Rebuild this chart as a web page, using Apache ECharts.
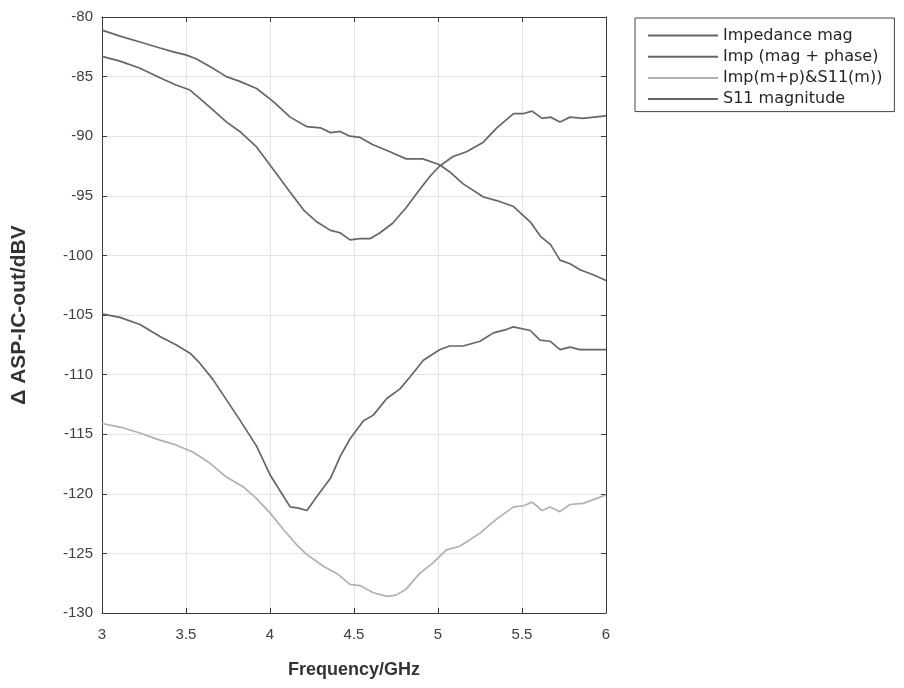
<!DOCTYPE html>
<html>
<head>
<meta charset="utf-8">
<script src="https://cdn.jsdelivr.net/npm/echarts@6/dist/echarts.min.js"></script>
<style>html,body{margin:0;padding:0;background:#fff;}#c{width:904px;height:688px;}</style>
</head>
<body>
<div id="c"></div>
<script>
// Series names
const seriesNames = ['Impedance mag', 'Imp (mag + phase)', 'Imp(m+p)&S11(m))', 'S11 magnitude'];

// Impedance mag (dips near 4.5 GHz, rises to -88)
const impMagFreq = [3.0,3.107,3.226,3.345,3.44,3.52,3.58,3.66,3.74,3.82,3.92,4.02,4.12,4.20,4.28,4.36,4.417,4.476,4.536,4.595,4.655,4.73,4.81,4.89,4.95,5.01,5.09,5.17,5.27,5.35,5.45,5.51,5.56,5.62,5.67,5.726,5.786,5.863,5.93,6.0];
const impMagVal  = [-83.3,-83.7,-84.3,-85.1,-85.7,-86.1,-86.8,-87.8,-88.8,-89.6,-90.9,-92.8,-94.7,-96.2,-97.2,-97.9,-98.1,-98.7,-98.6,-98.6,-98.1,-97.3,-96.0,-94.5,-93.4,-92.5,-91.7,-91.3,-90.5,-89.3,-88.1,-88.1,-87.9,-88.5,-88.4,-88.8,-88.4,-88.5,-88.4,-88.3];

// Imp (mag + phase) (dips near 4.2 GHz)
const impMPFreq = [3.0,3.107,3.226,3.345,3.44,3.524,3.58,3.66,3.74,3.82,3.92,4.0,4.08,4.12,4.17,4.22,4.28,4.36,4.42,4.476,4.555,4.615,4.695,4.774,4.833,4.913,5.012,5.07,5.15,5.25,5.33,5.41,5.448,5.55,5.607,5.667,5.726,5.786,5.845,6.0];
const impMPVal  = [-104.9,-105.2,-105.8,-106.8,-107.5,-108.2,-109.0,-110.4,-112.1,-113.8,-116.0,-118.4,-120.2,-121.1,-121.2,-121.4,-120.2,-118.7,-116.8,-115.4,-113.9,-113.4,-112.0,-111.2,-110.2,-108.8,-107.9,-107.6,-107.6,-107.2,-106.5,-106.2,-106.0,-106.3,-107.1,-107.2,-107.9,-107.7,-107.9,-107.9];

// Imp(m+p)&S11(m) (light, dips near 4.7 GHz)
const impS11Freq = [3.0,3.107,3.226,3.345,3.44,3.54,3.64,3.74,3.84,3.92,4.0,4.08,4.16,4.22,4.32,4.40,4.476,4.536,4.615,4.695,4.75,4.81,4.89,4.97,5.05,5.13,5.25,5.35,5.45,5.51,5.56,5.62,5.667,5.726,5.786,5.863,6.0];
const impS11Val  = [-114.1,-114.4,-114.9,-115.5,-115.9,-116.5,-117.4,-118.6,-119.4,-120.4,-121.6,-123.0,-124.3,-125.1,-126.1,-126.7,-127.6,-127.7,-128.3,-128.6,-128.5,-128.0,-126.7,-125.8,-124.7,-124.4,-123.3,-122.1,-121.1,-121.0,-120.7,-121.4,-121.1,-121.5,-120.9,-120.8,-120.1];

// S11 magnitude (monotonic decrease)
const s11Freq = [3.0,3.107,3.226,3.345,3.42,3.504,3.56,3.66,3.74,3.82,3.92,4.02,4.12,4.22,4.30,4.36,4.417,4.476,4.536,4.61,4.714,4.81,4.91,5.01,5.07,5.15,5.27,5.35,5.45,5.55,5.61,5.67,5.726,5.786,5.845,5.92,6.0];
const s11Val  = [-81.1,-81.6,-82.1,-82.6,-82.9,-83.2,-83.5,-84.3,-85.0,-85.4,-86.0,-87.1,-88.4,-89.2,-89.3,-89.7,-89.6,-90.0,-90.1,-90.7,-91.3,-91.9,-91.9,-92.4,-93.0,-94.0,-95.1,-95.4,-95.9,-97.2,-98.4,-99.1,-100.4,-100.7,-101.2,-101.6,-102.1];

// Axis ticks
const xTicks = { min: 3, max: 6, interval: 0.5 };
const yTicks = { min: -130, max: -80, interval: 5 };

const zip = (xs, ys) => xs.map((x, i) => [x, ys[i]]);
const dark = '#666666', light = '#b0b0b0';
const colors = [dark, dark, light, dark];
const seriesData = [zip(impMagFreq, impMagVal), zip(impMPFreq, impMPVal), zip(impS11Freq, impS11Val), zip(s11Freq, s11Val)];

const axisLine = { show: true, onZero: false, lineStyle: { color: '#3a3a3a', width: 1 } };
const font = 'Liberation Sans, Arial, sans-serif';

const chart = echarts.init(document.getElementById('c'), null, { renderer: 'canvas' });
chart.setOption({
  animation: false,
  backgroundColor: '#fff',
  grid: { left: 102, top: 17, width: 504, height: 596, containLabel: false },
  legend: {
    orient: 'vertical', left: 635, top: 18,
    padding: [9, 12, 4, 13],
    borderColor: '#444', borderWidth: 1, borderRadius: 0,
    itemWidth: 70, itemHeight: 2, itemGap: 4.2, icon: 'rect',
    textStyle: { fontFamily: 'DejaVu Sans, sans-serif', fontSize: 16, color: '#262626', lineHeight: 17 },
    data: seriesNames
  },
  xAxis: [
    { type: 'value', min: xTicks.min, max: xTicks.max, interval: xTicks.interval, position: 'bottom',
      axisLine, axisTick: { show: true, inside: true, length: 5, lineStyle: { color: '#3a3a3a' } },
      axisLabel: { fontFamily: font, fontSize: 15, color: '#404040', margin: 14 },
      splitLine: { show: true, lineStyle: { color: '#e3e3e3', width: 1 } },
      name: 'Frequency/GHz', nameLocation: 'middle', nameGap: 48,
      nameTextStyle: { fontFamily: font, fontSize: 18, fontWeight: 'bold', color: '#333' } },
    { type: 'value', min: xTicks.min, max: xTicks.max, interval: xTicks.interval, position: 'top',
      axisLine, axisTick: { show: true, inside: true, length: 5, lineStyle: { color: '#3a3a3a' } },
      axisLabel: { show: false }, splitLine: { show: false } }
  ],
  yAxis: [
    { type: 'value', min: yTicks.min, max: yTicks.max, interval: yTicks.interval, position: 'left',
      axisLine, axisTick: { show: true, inside: true, length: 5, lineStyle: { color: '#3a3a3a' } },
      axisLabel: { fontFamily: font, fontSize: 15, color: '#404040', margin: 9 },
      splitLine: { show: true, lineStyle: { color: '#e3e3e3', width: 1 } },
      name: '\u0394 ASP-IC-out/dBV', nameLocation: 'middle', nameGap: 72, nameRotate: 90,
      nameTextStyle: { fontFamily: font, fontSize: 21, fontWeight: 'bold', color: '#333' } },
    { type: 'value', min: yTicks.min, max: yTicks.max, interval: yTicks.interval, position: 'right',
      axisLine, axisTick: { show: true, inside: true, length: 5, lineStyle: { color: '#3a3a3a' } },
      axisLabel: { show: false }, splitLine: { show: false } }
  ],
  series: seriesNames.map((n, i) => ({
    name: n, type: 'line', data: seriesData[i], showSymbol: false, symbol: 'none',
    smooth: false, lineStyle: { color: colors[i], width: 1.7 }, itemStyle: { color: colors[i] },
    xAxisIndex: 0, yAxisIndex: 0
  }))
});
</script>
</body>
</html>
